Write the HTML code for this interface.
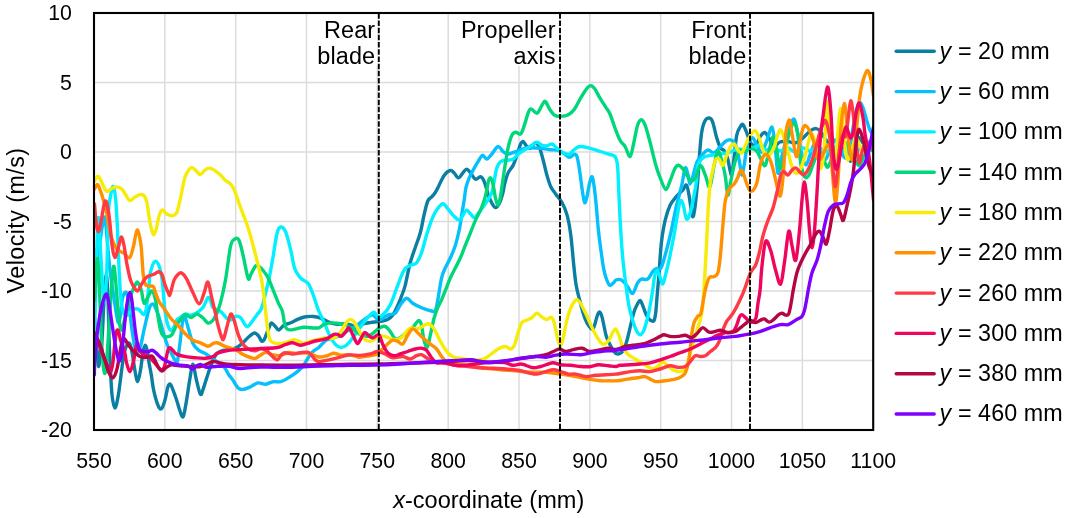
<!DOCTYPE html>
<html><head><meta charset="utf-8"><title>Velocity chart</title>
<style>
html,body{margin:0;padding:0;background:#fff;}
body{width:1066px;height:518px;overflow:hidden;}
svg{display:block;}
text{font-family:"Liberation Sans",Arial,sans-serif;fill:#000;}
.tk{font-size:21.3px;}
.lb{font-size:23.3px;}
.ser{fill:none;stroke-width:3.4;stroke-linecap:round;stroke-linejoin:round;}
</style></head><body>
<svg width="1066" height="518" viewBox="0 0 1066 518">
<rect width="1066" height="518" fill="#fff"/>
<path d="M164.84,13.0V430.0M235.67,13.0V430.0M306.51,13.0V430.0M377.35,13.0V430.0M448.18,13.0V430.0M519.02,13.0V430.0M589.85,13.0V430.0M660.69,13.0V430.0M731.53,13.0V430.0M802.36,13.0V430.0M94.0,82.50H873.2M94.0,152.00H873.2M94.0,221.50H873.2M94.0,291.00H873.2M94.0,360.50H873.2" stroke="#dcdcdc" stroke-width="1.5" fill="none"/>
<rect x="313" y="14" width="64.6" height="52" fill="#fff"/>
<rect x="458" y="14" width="100.8" height="52" fill="#fff"/>
<rect x="686" y="14" width="62.8" height="52" fill="#fff"/>
<clipPath id="cp"><rect x="94.0" y="13.0" width="779.2" height="417.0"/></clipPath>
<g clip-path="url(#cp)">
<path class="ser" stroke="#0b7fa3" d="M94.5,318.0C94.8,320.8 95.3,327.0 96.0,335.0C96.7,343.0 97.7,363.2 98.4,366.0C99.2,368.8 99.9,356.3 100.5,352.0C101.1,347.7 101.4,348.7 102.0,340.0C102.6,331.3 103.4,311.0 104.1,300.0C104.8,289.0 105.6,273.9 106.3,273.9C107.0,273.9 107.5,289.0 108.0,300.0C108.5,311.0 108.7,328.3 109.1,340.0C109.5,351.7 110.0,360.9 110.5,370.0C111.0,379.1 111.3,388.2 112.0,394.6C112.7,401.0 113.8,408.1 114.9,408.1C116.0,408.1 117.2,401.4 118.4,394.6C119.6,387.8 121.0,374.3 122.0,367.4C123.0,360.5 123.3,356.8 124.1,353.1C124.9,349.4 126.1,346.6 127.0,345.0C127.9,343.4 128.7,342.3 129.5,343.5C130.3,344.7 131.1,347.4 132.0,352.0C132.9,356.6 134.1,366.1 135.0,371.0C135.9,375.9 136.8,381.7 137.7,381.5C138.6,381.3 139.6,374.9 140.5,370.0C141.4,365.1 142.2,356.1 143.0,352.0C143.8,347.9 144.6,345.3 145.3,345.3C146.1,345.3 146.9,349.0 147.5,352.0C148.1,355.0 148.4,359.1 149.1,363.1C149.8,367.1 150.8,371.7 151.5,376.0C152.2,380.3 152.4,384.1 153.4,388.9C154.4,393.7 156.4,401.3 157.7,404.6C159.0,407.9 160.1,409.6 161.3,408.9C162.5,408.2 163.8,403.9 164.9,400.3C166.0,396.7 166.9,390.1 167.7,387.4C168.5,384.7 169.1,384.0 169.8,384.0C170.5,384.0 170.9,384.7 172.0,387.4C173.1,390.1 175.3,396.1 176.6,400.0C177.9,403.9 178.9,408.2 180.0,411.0C181.1,413.8 182.1,418.3 183.2,416.5C184.3,414.7 185.5,406.4 186.6,400.0C187.7,393.6 188.9,384.0 190.0,378.0C191.1,372.0 191.9,364.2 192.9,364.2C193.9,364.2 194.8,373.0 196.0,378.0C197.2,383.0 199.2,392.5 200.4,394.2C201.7,395.9 202.4,390.7 203.5,388.0C204.6,385.3 205.6,381.2 206.7,377.9C207.8,374.6 208.8,371.4 210.0,368.2C211.2,365.0 212.6,361.0 213.8,358.5C215.1,356.0 215.9,354.4 217.5,353.0C219.1,351.6 220.7,351.0 223.2,350.3C225.7,349.6 230.0,349.6 232.5,349.0C235.0,348.4 236.3,347.8 238.2,346.6C240.1,345.4 241.9,343.6 243.8,341.9C245.7,340.2 247.6,337.8 249.4,336.3C251.2,334.8 253.0,333.0 254.6,333.0C256.2,333.0 257.7,335.0 258.8,336.3C259.9,337.6 260.6,340.4 261.5,341.0C262.4,341.6 263.2,341.1 264.0,340.0C264.8,338.9 265.3,336.9 266.3,334.4C267.3,331.9 269.2,326.9 270.1,325.0C271.0,323.1 271.0,322.7 271.9,323.0C272.8,323.3 274.5,325.7 275.7,326.9C276.9,328.1 277.4,330.3 278.8,330.0C280.2,329.7 282.1,326.3 284.1,325.1C286.1,323.9 288.4,323.8 290.7,322.8C293.0,321.8 295.7,320.2 298.2,319.2C300.7,318.2 303.2,317.2 305.7,316.8C308.2,316.4 310.7,316.3 313.2,316.5C315.7,316.7 318.2,317.3 320.7,318.2C323.2,319.1 325.7,320.8 328.2,321.8C330.7,322.8 333.2,323.7 335.7,324.1C338.2,324.5 340.7,323.9 343.2,324.0C345.7,324.1 348.6,324.4 350.7,325.0C352.8,325.6 354.4,327.6 356.0,327.5C357.6,327.4 357.6,325.3 360.0,324.5C362.4,323.7 366.8,323.1 370.1,322.6C373.5,322.1 377.2,321.9 380.1,321.4C383.0,320.9 385.5,320.6 387.6,319.5C389.7,318.4 391.3,316.9 392.7,315.1C394.1,313.4 395.0,311.0 396.0,309.0C397.0,307.0 397.8,305.7 398.9,303.0C400.0,300.3 401.6,295.9 402.7,293.0C403.8,290.1 403.9,290.4 405.2,285.4C406.4,280.4 408.5,269.1 410.2,262.8C411.9,256.5 413.5,252.7 415.2,247.7C416.9,242.7 418.8,238.1 420.3,232.7C421.8,227.3 422.8,220.4 424.0,215.1C425.2,209.8 426.5,204.0 427.8,201.0C429.1,198.0 430.4,198.4 431.6,197.0C432.9,195.6 434.3,194.0 435.3,192.5C436.3,191.0 436.3,190.8 437.8,187.9C439.3,185.1 442.0,178.3 444.1,175.4C446.2,172.5 448.7,170.8 450.4,170.4C452.1,170.0 452.8,171.7 454.1,172.9C455.4,174.2 456.9,177.9 458.4,177.9C459.9,177.9 461.5,174.4 462.9,172.9C464.3,171.4 465.4,169.1 466.7,169.1C468.0,169.1 469.0,171.2 470.5,172.9C472.0,174.6 473.8,178.6 475.5,179.2C477.2,179.8 479.0,176.3 480.5,176.7C482.0,177.1 483.1,178.8 484.3,181.7C485.6,184.6 486.8,190.4 488.0,194.0C489.2,197.6 490.6,200.7 491.8,203.0C493.1,205.3 494.2,207.5 495.5,207.6C496.8,207.7 498.0,206.1 499.3,203.5C500.6,200.9 502.3,195.0 503.1,192.0C503.9,189.0 503.5,188.6 504.3,185.4C505.1,182.2 506.6,176.2 508.1,172.9C509.6,169.6 511.6,168.3 513.1,165.4C514.6,162.5 515.6,158.9 516.9,155.3C518.1,151.7 519.5,146.3 520.6,144.0C521.7,141.7 522.2,141.1 523.2,141.5C524.2,141.9 525.6,145.4 526.9,146.5C528.1,147.6 529.2,148.4 530.7,147.8C532.2,147.2 534.2,142.8 535.7,142.8C537.2,142.8 538.2,144.9 539.5,147.8C540.8,150.7 542.0,155.7 543.2,160.3C544.5,164.9 545.7,171.0 547.0,175.4C548.3,179.8 549.3,183.6 550.8,186.7C552.3,189.8 553.9,191.6 555.8,194.2C557.7,196.8 560.1,199.0 562.0,202.5C563.9,206.0 565.6,209.7 567.1,215.1C568.6,220.5 569.8,227.7 570.8,235.2C571.8,242.7 572.5,252.3 573.3,260.3C574.1,268.3 574.8,276.4 575.8,283.0C576.8,289.6 578.1,294.2 579.6,300.0C581.1,305.8 582.9,313.1 584.6,317.6C586.3,322.1 588.1,325.2 589.6,327.0C591.1,328.8 592.1,329.9 593.4,328.1C594.7,326.3 596.2,318.7 597.2,316.0C598.2,313.3 598.9,311.8 599.7,312.1C600.5,312.4 601.2,313.8 602.2,317.6C603.2,321.5 604.8,330.8 606.0,335.2C607.2,339.6 608.4,341.3 609.7,344.0C611.0,346.7 612.5,349.8 613.8,351.5C615.1,353.2 616.0,354.0 617.5,354.0C619.0,354.0 621.0,353.4 622.5,351.5C624.0,349.6 625.0,346.7 626.3,342.7C627.6,338.7 628.9,332.6 630.1,327.6C631.4,322.6 632.5,316.6 633.8,312.6C635.0,308.6 636.5,305.8 637.6,303.8C638.7,301.8 639.3,300.3 640.1,300.5C640.9,300.7 641.6,302.7 642.6,305.1C643.6,307.5 645.1,312.6 646.4,315.1C647.7,317.6 648.9,319.2 650.2,320.1C651.5,321.0 653.1,321.9 654.0,320.5C654.9,319.1 655.3,316.2 655.8,312.0C656.3,307.8 656.7,301.1 657.2,295.0C657.7,288.9 658.2,284.1 658.9,275.4C659.6,266.7 660.3,251.9 661.4,242.7C662.5,233.5 663.7,226.5 665.2,220.2C666.7,213.9 668.3,209.1 670.2,205.1C672.1,201.1 674.4,198.8 676.5,196.3C678.6,193.8 681.1,191.9 682.8,190.0C684.5,188.1 685.5,184.2 686.5,185.0C687.5,185.8 688.1,190.5 689.0,195.1C689.9,199.7 690.9,209.0 691.6,212.6C692.3,216.2 692.7,217.7 693.3,216.4C693.9,215.2 694.5,211.2 695.3,205.1C696.0,199.0 697.2,187.4 697.8,180.0C698.4,172.6 698.5,168.3 699.1,160.4C699.7,152.5 700.6,139.5 701.6,132.8C702.6,126.1 704.0,122.6 705.4,120.2C706.8,117.8 708.6,117.8 709.9,118.2C711.1,118.6 711.8,119.4 712.9,122.7C714.0,126.0 715.5,133.6 716.7,137.8C718.0,142.0 719.2,145.7 720.4,147.8C721.6,149.9 722.8,148.8 724.0,150.5C725.2,152.2 726.5,154.8 727.5,158.0C728.5,161.2 729.3,167.2 730.0,170.0C730.7,172.8 731.1,175.7 731.7,174.5C732.3,173.3 732.7,169.5 733.5,163.0C734.3,156.5 735.5,141.4 736.7,135.3C737.9,129.2 739.5,128.3 740.5,126.5C741.5,124.7 742.0,123.7 743.0,124.7C744.0,125.8 745.5,129.8 746.8,132.8C748.0,135.8 749.0,140.7 750.5,142.8C752.0,144.9 753.8,146.4 755.5,145.3C757.2,144.2 759.1,138.1 760.6,136.0C762.1,133.9 763.4,132.2 764.8,132.5C766.2,132.8 767.5,135.8 769.0,138.0C770.5,140.2 772.2,145.3 774.0,146.0C775.8,146.7 777.7,142.8 780.0,142.0C782.3,141.2 785.4,141.2 787.9,141.4C790.4,141.6 792.5,143.6 795.0,143.0C797.5,142.4 800.5,140.0 803.0,138.0C805.5,136.0 807.8,132.6 810.0,131.0C812.2,129.4 814.6,128.4 816.4,128.6C818.2,128.8 819.6,130.3 821.0,132.0C822.4,133.7 823.4,136.3 825.0,138.6C826.6,140.9 828.5,143.8 830.7,145.7C832.9,147.6 835.6,149.4 838.0,150.0C840.4,150.6 842.9,147.1 845.0,149.0C847.1,150.9 849.0,161.2 850.7,161.4C852.4,161.6 853.6,153.9 855.0,150.0C856.4,146.1 857.7,139.2 859.0,138.0C860.3,136.8 861.5,141.3 863.0,143.0C864.5,144.7 866.2,148.3 868.0,148.0C869.8,147.7 872.6,142.2 873.5,141.0"/>
<path class="ser" stroke="#05c0fb" d="M94.5,250.0C94.8,252.0 95.8,262.0 96.5,262.0C97.2,262.0 98.1,255.7 99.0,250.0C99.9,244.3 101.0,233.5 102.0,228.0C103.0,222.5 104.1,215.4 104.9,217.1C105.7,218.8 106.3,230.5 107.0,238.0C107.7,245.5 108.3,254.2 109.1,262.0C109.9,269.8 111.0,277.8 112.0,285.0C113.0,292.2 114.0,298.8 115.0,305.0C116.0,311.2 117.2,319.8 118.0,322.0C118.8,324.2 119.2,322.0 120.0,318.0C120.8,314.0 121.5,302.2 122.5,298.0C123.5,293.8 125.2,291.3 126.3,292.5C127.4,293.7 128.1,298.8 129.0,305.0C129.9,311.2 131.0,322.8 132.0,330.0C133.0,337.2 134.1,344.2 135.0,348.0C135.9,351.8 136.6,353.3 137.5,353.0C138.4,352.7 139.5,349.8 140.6,346.0C141.7,342.2 142.6,336.2 144.0,330.0C145.4,323.8 147.7,313.2 149.1,308.9C150.5,304.5 151.6,304.0 152.7,303.9C153.8,303.8 154.4,305.8 155.5,308.0C156.6,310.2 157.8,313.2 159.1,317.4C160.4,321.6 162.0,328.3 163.4,333.1C164.8,337.9 166.3,342.4 167.7,346.0C169.1,349.6 170.7,352.1 172.0,354.6C173.3,357.1 174.6,359.9 175.5,361.0C176.4,362.1 176.7,364.4 177.5,361.0C178.3,357.6 179.5,346.8 180.3,340.3C181.1,333.8 181.8,326.1 182.5,322.0C183.2,317.9 183.5,314.5 184.5,315.6C185.5,316.7 187.0,324.1 188.4,328.8C189.8,333.5 191.4,340.2 193.1,343.8C194.8,347.4 196.6,348.6 198.8,350.3C201.0,352.0 203.8,352.5 206.3,354.1C208.8,355.7 211.5,358.1 213.8,359.7C216.1,361.3 218.4,362.1 220.3,363.5C222.2,364.9 223.6,366.3 225.0,368.2C226.4,370.1 227.5,372.7 228.8,374.7C230.2,376.7 231.6,378.2 233.1,380.4C234.6,382.6 236.4,386.5 238.1,388.0C239.8,389.5 241.0,389.6 243.1,389.4C245.2,389.2 248.1,387.8 250.6,386.7C253.1,385.6 255.6,383.3 258.1,382.9C260.6,382.5 263.2,384.4 265.7,384.2C268.2,384.0 270.7,382.1 273.2,381.7C275.7,381.3 278.2,382.3 280.7,381.7C283.2,381.1 285.7,379.4 288.2,377.9C290.7,376.4 293.4,374.8 295.8,372.9C298.2,371.0 300.9,368.6 302.9,366.3C304.9,364.0 305.9,361.3 307.6,358.8C309.3,356.3 311.3,353.2 313.2,351.3C315.1,349.4 316.7,349.3 318.8,347.5C320.9,345.7 323.5,341.9 325.9,340.3C328.3,338.7 330.9,338.7 333.4,337.8C335.9,336.9 338.4,336.5 340.9,335.2C343.4,333.9 346.0,331.7 348.5,330.2C351.0,328.7 353.2,327.9 356.0,326.0C358.8,324.1 362.3,320.7 365.1,318.9C367.9,317.1 370.3,314.9 372.6,315.1C374.9,315.3 376.4,320.1 378.9,320.1C381.4,320.1 384.9,316.2 387.6,315.1C390.3,314.0 393.1,314.9 395.2,313.2C397.3,311.5 398.3,307.6 400.2,305.1C402.1,302.6 404.4,298.6 406.5,298.3C408.6,298.0 410.2,301.7 412.7,303.3C415.2,304.9 418.4,306.5 421.5,307.8C424.6,309.1 429.3,310.5 431.6,311.0C433.9,311.5 434.3,312.6 435.3,310.8C436.3,309.0 436.8,305.5 437.8,300.0C438.9,294.5 440.3,283.2 441.6,277.8C442.9,272.4 443.9,271.1 445.4,267.8C446.9,264.5 448.7,261.6 450.4,257.8C452.1,254.0 453.9,249.8 455.4,245.2C456.9,240.6 458.1,235.2 459.2,230.2C460.2,225.2 460.9,220.1 461.7,215.1C462.5,210.1 463.5,204.5 464.2,200.0C464.9,195.5 465.1,191.6 465.9,187.9C466.7,184.2 468.0,180.8 469.2,177.9C470.4,175.0 471.5,173.1 473.0,170.4C474.5,167.7 476.4,164.1 478.0,161.6C479.6,159.1 481.0,155.7 482.5,155.3C484.0,154.9 485.2,159.3 486.8,159.1C488.4,158.9 489.9,156.2 491.8,154.1C493.7,152.0 496.2,146.9 498.1,146.5C500.0,146.1 501.4,150.3 503.1,151.6C504.8,152.9 506.0,154.1 508.1,154.1C510.2,154.1 513.1,152.4 515.6,151.6C518.1,150.8 520.7,149.6 523.2,149.0C525.7,148.4 527.8,147.9 530.7,147.8C533.6,147.7 537.4,148.0 540.7,148.3C544.1,148.6 547.9,149.5 550.8,149.8C553.7,150.1 556.0,149.6 558.3,150.3C560.6,151.0 562.7,152.9 564.6,154.1C566.5,155.3 567.9,157.3 569.6,157.3C571.3,157.3 573.4,154.2 574.6,154.1C575.9,154.0 576.3,154.3 577.1,157.0C577.9,159.7 578.8,165.1 579.6,170.4C580.4,175.7 581.3,183.7 582.1,189.0C582.9,194.3 583.8,201.3 584.6,202.5C585.4,203.7 586.3,199.3 587.1,196.0C587.9,192.7 588.8,186.1 589.6,182.9C590.5,179.7 591.4,176.0 592.2,176.7C593.0,177.4 593.5,182.3 594.2,187.0C594.9,191.7 595.5,197.8 596.2,205.0C596.9,212.2 597.6,222.7 598.4,230.2C599.2,237.7 600.0,243.9 600.9,250.2C601.8,256.5 602.6,263.2 603.5,267.8C604.4,272.4 605.0,274.9 606.0,277.8C607.0,280.7 608.5,284.6 609.7,285.4C611.0,286.2 612.5,283.7 613.5,282.8C614.5,281.9 614.7,280.5 616.0,280.0C617.3,279.5 619.4,278.8 621.3,279.9C623.2,281.0 625.7,284.4 627.6,286.6C629.5,288.9 630.9,294.0 632.6,293.4C634.3,292.8 636.1,285.3 637.6,282.9C639.1,280.5 639.7,279.7 641.4,279.1C643.1,278.5 645.7,280.4 647.6,279.1C649.5,277.9 651.2,273.4 652.7,271.6C654.2,269.8 655.0,269.1 656.4,268.5C657.8,267.9 659.4,270.8 661.0,268.0C662.6,265.2 664.3,258.0 666.0,252.0C667.7,246.0 669.4,239.0 671.0,232.0C672.6,225.0 674.2,216.0 675.5,210.0C676.8,204.0 677.9,200.3 679.0,196.0C680.1,191.7 681.0,188.7 682.0,184.0C683.0,179.3 684.3,169.4 685.3,167.9C686.3,166.4 687.2,172.3 688.0,175.0C688.8,177.7 689.2,183.8 690.0,184.0C690.8,184.2 691.8,179.7 693.0,176.0C694.2,172.3 695.5,165.5 697.0,162.0C698.5,158.5 700.2,157.0 702.0,155.0C703.8,153.0 706.0,150.3 708.0,150.0C710.0,149.7 712.0,153.5 714.0,153.0C716.0,152.5 718.0,149.0 720.0,147.0C722.0,145.0 724.1,142.2 726.0,141.0C727.9,139.8 729.5,139.2 731.2,140.0C732.9,140.8 734.6,142.3 736.0,146.0C737.4,149.7 738.5,157.2 739.5,162.0C740.5,166.8 741.0,174.3 741.8,175.0C742.5,175.7 743.2,170.2 744.0,166.0C744.8,161.8 745.6,154.1 746.5,150.0C747.4,145.9 748.2,143.4 749.3,141.4C750.4,139.4 751.7,137.2 753.0,138.0C754.3,138.8 755.5,143.7 757.0,146.0C758.5,148.3 760.3,153.0 762.0,152.0C763.7,151.0 765.3,144.2 767.0,140.0C768.7,135.8 770.8,126.3 772.1,127.1C773.4,127.9 774.0,137.4 775.0,145.0C776.0,152.6 776.9,170.4 777.9,172.9C778.9,175.4 779.6,165.5 781.0,160.0C782.4,154.5 784.5,145.7 786.0,140.0C787.5,134.3 788.6,129.4 790.0,126.0C791.4,122.5 793.0,117.8 794.3,119.3C795.6,120.8 796.7,129.1 798.0,135.0C799.3,140.9 800.7,150.0 802.0,155.0C803.3,160.0 804.7,165.0 806.0,165.0C807.3,165.0 808.5,158.7 810.0,155.0C811.5,151.3 813.3,143.8 815.0,143.0C816.7,142.2 818.3,147.2 820.0,150.0C821.7,152.8 823.3,160.0 825.0,160.0C826.7,160.0 828.3,153.3 830.0,150.0C831.7,146.7 833.3,140.3 835.0,140.0C836.7,139.7 838.3,145.0 840.0,148.0C841.7,151.0 843.3,158.5 845.0,158.0C846.7,157.5 848.5,151.0 850.0,145.0C851.5,139.0 852.8,128.2 854.0,122.0C855.2,115.8 856.0,111.3 857.0,108.0C858.0,104.7 859.0,102.1 860.0,102.1C861.0,102.1 862.2,106.0 863.0,108.0C863.8,110.0 864.0,110.9 865.0,114.3C866.0,117.7 867.9,125.0 869.3,128.6C870.7,132.2 872.8,134.8 873.5,136.0"/>
<path class="ser" stroke="#00f0ff" d="M94.5,335.0C94.8,322.8 95.9,281.6 96.5,262.0C97.1,242.4 97.6,219.5 98.3,217.5C99.0,215.5 99.7,237.6 100.5,250.0C101.3,262.4 102.2,283.7 103.0,292.0C103.8,300.3 104.4,303.7 105.0,300.0C105.6,296.3 106.2,284.5 106.8,270.0C107.4,255.5 107.8,225.3 108.4,212.9C109.0,200.5 109.8,200.1 110.6,195.7C111.4,191.3 112.3,185.9 113.1,186.4C113.9,186.9 114.9,191.8 115.6,198.6C116.3,205.4 116.9,217.9 117.4,227.1C117.9,236.3 117.9,242.5 118.4,254.0C118.9,265.5 119.9,286.7 120.6,296.0C121.3,305.3 121.8,306.7 122.7,310.0C123.6,313.3 124.8,315.7 126.0,316.0C127.2,316.3 128.5,313.2 130.0,312.0C131.5,310.8 133.4,309.3 134.9,308.9C136.4,308.5 137.7,308.7 139.1,309.6C140.5,310.6 142.2,314.5 143.4,314.6C144.6,314.7 145.3,312.8 146.0,310.0C146.7,307.2 147.1,302.2 147.6,298.0C148.1,293.8 148.5,289.4 149.0,285.0C149.5,280.6 149.6,275.6 150.6,271.7C151.6,267.8 153.5,262.3 154.9,261.4C156.3,260.4 157.9,263.1 159.1,266.0C160.3,268.9 161.3,274.4 162.0,278.9C162.7,283.4 162.9,287.9 163.4,293.1C163.9,298.3 164.2,304.9 164.9,310.0C165.6,315.1 166.5,320.6 167.5,324.0C168.5,327.4 169.8,330.2 171.0,330.5C172.2,330.8 173.6,327.7 174.5,326.0C175.4,324.3 175.6,321.6 176.6,320.2C177.6,318.8 178.8,318.8 180.3,317.7C181.8,316.6 183.7,314.3 185.4,313.9C187.1,313.5 188.6,315.3 190.4,315.2C192.2,315.1 194.4,314.3 196.5,313.0C198.6,311.7 201.0,310.2 202.9,307.6C204.8,305.0 206.6,298.5 207.9,297.6C209.2,296.7 210.2,300.3 211.0,302.0C211.8,303.7 211.4,306.0 213.0,307.6C214.6,309.2 217.8,309.3 220.5,311.4C223.2,313.5 226.8,319.4 229.3,320.2C231.8,321.0 233.6,316.8 235.5,316.4C237.4,316.0 238.7,316.0 240.6,317.7C242.5,319.4 244.9,325.9 246.8,326.5C248.7,327.1 250.5,323.3 252.2,321.3C253.9,319.3 255.5,316.6 256.9,314.7C258.3,312.8 259.6,312.0 260.7,310.0C261.8,308.0 261.9,307.2 263.2,302.6C264.4,298.0 266.9,287.9 268.2,282.5C269.4,277.1 269.9,274.4 270.7,270.0C271.5,265.6 272.1,262.1 273.2,256.0C274.2,249.9 275.8,238.3 277.0,233.5C278.2,228.7 279.3,227.3 280.7,227.0C282.1,226.7 283.8,227.6 285.5,231.5C287.2,235.4 289.3,244.3 290.8,250.4C292.3,256.5 293.1,263.6 294.5,268.0C295.9,272.4 298.1,274.7 299.5,276.7C300.9,278.7 301.5,278.8 303.0,280.0C304.5,281.2 306.6,281.3 308.3,283.8C310.0,286.3 311.6,290.7 313.3,295.1C315.0,299.5 316.5,305.5 318.4,310.2C320.3,314.9 322.6,318.8 324.5,323.1C326.4,327.5 328.2,332.7 330.1,336.3C332.0,339.9 333.8,342.8 335.7,344.7C337.6,346.6 339.5,347.5 341.4,347.5C343.3,347.5 345.1,346.3 347.0,344.7C348.9,343.1 350.4,341.0 352.6,338.1C354.8,335.2 357.5,331.0 360.0,327.6C362.5,324.2 365.3,320.2 367.6,317.6C369.9,315.0 372.1,312.4 373.8,312.2C375.5,312.0 376.1,315.8 377.6,316.3C379.1,316.8 380.5,317.0 382.6,315.1C384.7,313.2 387.7,310.1 390.2,305.1C392.7,300.2 395.4,291.2 397.7,285.4C400.0,279.6 401.9,273.6 404.0,270.3C406.1,267.0 408.1,266.6 410.2,265.3C412.3,264.1 414.6,264.9 416.5,262.8C418.4,260.7 419.8,257.3 421.5,252.7C423.2,248.1 424.8,240.6 426.5,235.2C428.2,229.8 429.9,224.3 431.6,220.1C433.3,215.9 434.7,212.8 436.6,210.1C438.5,207.4 440.9,204.0 442.8,203.8C444.7,203.6 446.2,206.9 447.9,208.8C449.6,210.7 451.0,213.2 452.9,215.1C454.8,217.0 457.5,220.1 459.2,220.1C460.9,220.1 461.6,216.8 462.9,215.1C464.1,213.4 465.4,210.3 466.7,210.1C468.0,209.9 469.2,212.6 470.5,213.8C471.8,215.1 472.9,217.6 474.2,217.6C475.4,217.6 476.5,215.6 478.0,213.8C479.5,212.0 481.3,209.3 483.0,207.0C484.7,204.7 486.5,202.5 488.0,200.0C489.5,197.5 490.9,195.3 492.0,192.0C493.1,188.7 493.5,184.4 494.3,180.4C495.1,176.4 495.8,171.0 496.8,167.9C497.9,164.8 498.9,162.9 500.6,161.6C502.3,160.3 504.7,160.7 506.8,160.3C508.9,159.9 511.2,160.1 513.1,159.1C515.0,158.1 516.0,155.8 518.1,154.1C520.2,152.4 523.4,150.5 525.7,149.0C528.0,147.5 530.0,146.4 531.9,145.3C533.8,144.2 535.3,142.3 537.0,142.3C538.7,142.3 540.3,144.7 542.0,145.3C543.7,145.9 545.3,146.0 547.0,145.8C548.7,145.6 550.3,143.6 552.0,144.0C553.7,144.4 555.1,146.8 557.0,148.3C558.9,149.8 561.2,151.8 563.3,152.8C565.4,153.8 567.9,154.5 569.6,154.1C571.3,153.7 571.6,151.6 573.3,150.3C575.0,149.0 577.1,146.9 579.6,146.5C582.1,146.1 585.3,147.1 588.4,147.8C591.5,148.5 595.0,149.8 598.4,150.8C601.8,151.9 605.7,153.1 608.5,154.1C611.3,155.1 613.5,154.7 615.0,156.6C616.5,158.5 616.9,160.2 617.5,165.4C618.1,170.6 618.2,179.3 618.6,188.0C619.0,196.7 619.4,206.4 620.0,217.6C620.6,228.8 621.5,243.6 622.5,255.3C623.5,267.0 625.2,279.6 626.3,287.9C627.3,296.2 627.8,299.7 628.8,305.1C629.8,310.5 631.4,315.9 632.6,320.1C633.9,324.3 635.0,327.8 636.3,330.2C637.5,332.6 638.8,334.7 640.1,334.7C641.4,334.7 642.6,333.0 643.9,330.2C645.1,327.4 646.5,321.8 647.6,317.6C648.7,313.4 649.4,309.7 650.2,305.1C651.1,300.5 652.0,294.7 652.7,290.0C653.4,285.3 653.8,280.2 654.5,277.0C655.2,273.8 656.1,270.5 657.0,270.5C657.9,270.5 659.0,274.7 660.0,277.0C661.0,279.3 661.8,284.4 662.7,284.1C663.6,283.8 664.5,279.0 665.5,275.0C666.5,271.0 667.6,266.9 669.0,260.3C670.4,253.7 672.5,243.1 674.0,235.2C675.5,227.2 676.8,218.3 677.8,212.6C678.8,206.9 679.4,202.4 680.3,201.0C681.2,199.6 682.0,201.0 683.0,204.0C684.0,207.0 685.3,217.5 686.5,218.9C687.7,220.3 689.0,216.6 690.3,212.6C691.6,208.6 693.0,200.5 694.1,195.1C695.2,189.7 696.0,184.9 696.6,180.0C697.2,175.1 696.8,169.1 697.8,165.4C698.8,161.7 700.7,159.6 702.8,157.9C704.9,156.2 707.5,156.0 710.4,155.4C713.3,154.8 717.1,154.7 720.4,154.1C723.7,153.5 727.1,152.8 730.0,152.0C732.9,151.2 735.5,149.3 738.0,149.0C740.5,148.7 742.7,150.2 745.0,150.0C747.3,149.8 749.6,148.7 752.0,148.0C754.4,147.3 757.0,145.4 759.3,145.7C761.6,146.0 763.7,149.8 766.0,150.0C768.3,150.2 770.7,146.8 773.0,147.0C775.3,147.2 777.5,150.8 780.0,151.0C782.5,151.2 785.5,147.8 788.0,148.0C790.5,148.2 792.5,152.0 795.0,152.0C797.5,152.0 800.5,148.2 803.0,148.0C805.5,147.8 807.5,151.2 810.0,151.0C812.5,150.8 815.3,146.8 818.0,147.0C820.7,147.2 823.3,152.0 826.0,152.0C828.7,152.0 831.3,147.2 834.0,147.0C836.7,146.8 839.3,151.2 842.0,151.0C844.7,150.8 847.3,146.2 850.0,146.0C852.7,145.8 855.3,150.3 858.0,150.0C860.7,149.7 863.4,145.8 866.0,144.0C868.6,142.2 872.2,139.8 873.5,139.0"/>
<path class="ser" stroke="#00d67a" d="M94.5,300.0C94.8,295.8 95.5,281.9 96.0,275.0C96.5,268.1 97.1,256.4 97.7,258.9C98.3,261.4 98.9,276.5 99.5,290.0C100.1,303.5 100.8,327.0 101.5,340.0C102.2,353.0 102.8,362.7 103.5,368.0C104.2,373.3 104.8,375.0 105.5,372.0C106.2,369.0 106.8,360.3 107.5,350.0C108.2,339.7 109.2,322.5 110.0,310.0C110.8,297.5 111.8,282.2 112.5,275.0C113.2,267.8 113.5,265.0 114.1,266.7C114.7,268.4 115.3,276.9 116.0,285.0C116.7,293.1 117.7,307.5 118.5,315.0C119.3,322.5 120.1,328.8 121.0,330.0C121.9,331.2 122.8,326.2 124.0,322.0C125.2,317.8 126.7,310.0 128.0,305.0C129.3,300.0 130.8,295.4 132.0,292.0C133.2,288.6 134.6,286.1 135.5,284.5C136.4,282.9 136.7,281.4 137.7,282.4C138.7,283.4 140.2,286.9 141.3,290.3C142.4,293.8 142.9,302.2 144.1,303.1C145.3,304.1 147.1,298.0 148.4,296.0C149.7,294.0 150.8,290.3 152.0,291.0C153.2,291.7 154.7,296.4 155.6,300.3C156.5,304.2 156.9,309.6 157.7,314.6C158.5,319.6 159.6,326.7 160.6,330.3C161.6,333.9 162.2,334.9 163.4,336.0C164.6,337.1 166.3,336.9 167.7,336.7C169.1,336.5 170.5,336.5 172.0,334.6C173.5,332.7 174.8,328.2 176.6,325.2C178.4,322.2 181.3,318.1 182.8,316.4C184.3,314.6 184.2,314.5 185.6,314.7C187.0,314.9 189.4,317.6 191.3,317.5C193.2,317.4 195.0,314.1 196.9,314.1C198.8,314.1 200.6,316.0 202.5,317.5C204.4,319.0 206.4,322.6 208.1,323.1C209.8,323.6 211.4,321.9 212.8,320.3C214.2,318.8 215.3,316.8 216.6,313.8C217.9,310.9 219.0,308.2 220.5,302.6C222.0,297.0 223.8,289.4 225.5,280.0C227.2,270.6 229.0,253.3 230.5,246.5C232.0,239.7 232.9,240.5 234.3,239.4C235.7,238.3 237.3,237.1 238.8,239.8C240.3,242.5 241.6,249.0 243.1,255.4C244.6,261.8 246.8,275.2 248.1,278.3C249.4,281.4 249.8,276.1 251.0,274.0C252.2,271.9 254.3,267.1 255.6,265.9C256.9,264.6 257.7,265.7 259.0,266.5C260.3,267.3 261.7,268.6 263.2,270.5C264.7,272.4 266.5,274.7 268.2,278.0C269.9,281.3 271.5,286.0 273.2,290.1C274.9,294.2 276.7,299.1 278.2,302.6C279.7,306.1 281.3,307.9 282.3,311.0C283.3,314.1 283.5,318.5 284.1,321.3C284.7,324.1 285.1,326.4 286.0,327.8C286.9,329.2 288.1,329.7 289.8,329.9C291.5,330.1 294.0,329.2 296.3,328.8C298.6,328.4 301.3,327.5 303.8,327.3C306.3,327.1 308.8,327.7 311.3,327.8C313.8,327.9 316.6,328.4 318.8,327.8C321.0,327.2 322.3,324.9 324.5,324.1C326.7,323.3 329.5,323.0 332.0,322.9C334.5,322.8 337.3,323.1 339.5,323.5C341.7,323.9 343.2,324.3 345.1,325.0C347.0,325.7 348.8,326.7 350.7,327.8C352.6,328.9 354.5,330.2 356.4,331.5C358.3,332.8 360.1,334.7 362.0,335.5C363.9,336.3 365.9,336.6 367.6,336.3C369.3,336.1 370.8,334.8 372.0,334.0C373.2,333.2 373.8,332.5 375.1,331.4C376.5,330.3 378.4,328.4 380.1,327.6C381.8,326.8 383.4,325.8 385.1,326.4C386.8,327.0 388.5,329.3 390.2,331.4C391.9,333.5 393.5,337.8 395.2,338.9C396.9,339.9 398.3,338.7 400.2,337.7C402.1,336.7 404.4,334.4 406.5,332.7C408.6,331.0 411.0,329.3 412.7,327.6C414.4,325.9 415.4,323.8 416.5,322.6C417.6,321.4 418.2,320.2 419.0,320.6C419.8,321.0 420.7,321.8 421.5,325.1C422.3,328.4 423.0,336.5 424.0,340.2C425.0,343.9 426.2,348.0 427.3,347.2C428.4,346.4 429.2,340.1 430.3,335.2C431.4,330.3 432.9,322.6 434.1,318.0C435.4,313.4 436.6,310.6 437.8,307.6C439.0,304.6 440.2,302.9 441.5,300.0C442.8,297.1 443.9,294.1 445.4,290.4C446.9,286.7 448.7,281.6 450.4,277.8C452.1,274.0 453.7,271.1 455.4,267.8C457.1,264.5 458.7,261.6 460.4,257.8C462.1,254.0 463.7,249.4 465.4,245.2C467.1,241.0 468.8,236.9 470.5,232.7C472.2,228.5 473.8,223.9 475.5,220.1C477.2,216.3 479.0,213.4 480.5,210.1C482.0,206.8 483.2,203.3 484.3,200.0C485.4,196.7 486.1,193.2 486.8,190.0C487.5,186.8 487.9,183.0 488.5,181.0C489.1,179.0 489.8,177.4 490.5,177.9C491.2,178.4 492.2,180.7 493.0,184.0C493.8,187.3 494.6,194.5 495.5,198.0C496.4,201.5 497.2,205.4 498.1,205.0C499.0,204.6 499.6,201.3 500.6,195.5C501.6,189.7 503.1,178.3 504.3,170.4C505.6,162.5 506.8,153.7 508.1,147.8C509.4,141.9 510.6,137.8 511.9,135.2C513.1,132.6 514.1,132.4 515.6,132.2C517.1,132.0 519.1,135.2 520.6,134.0C522.1,132.8 523.1,128.8 524.4,125.2C525.7,121.7 527.1,115.4 528.2,112.7C529.3,110.0 529.7,108.8 531.2,108.9C532.7,109.0 535.2,113.8 537.0,113.2C538.8,112.6 540.6,107.1 542.0,105.1C543.4,103.1 544.0,100.8 545.2,101.4C546.5,102.0 548.0,106.6 549.5,108.9C551.0,111.2 552.6,114.0 554.5,115.2C556.4,116.5 558.5,116.5 560.8,116.4C563.1,116.3 566.0,116.0 568.3,114.7C570.6,113.5 572.5,111.8 574.6,108.9C576.7,106.1 578.8,101.1 580.9,97.6C583.0,94.1 585.4,90.1 587.1,88.1C588.8,86.1 589.6,85.5 590.9,85.6C592.2,85.7 593.2,86.8 594.7,88.8C596.2,90.8 597.8,94.5 599.7,97.6C601.6,100.7 604.3,104.9 606.0,107.6C607.7,110.3 608.5,110.6 610.0,114.0C611.5,117.4 613.3,123.6 615.0,128.0C616.7,132.4 618.3,137.2 620.0,140.3C621.7,143.4 623.4,143.9 625.1,146.6C626.8,149.3 628.7,157.2 630.1,156.6C631.5,156.0 632.5,148.0 633.8,142.8C635.0,137.6 636.3,129.1 637.6,125.2C638.9,121.3 640.1,119.7 641.4,119.7C642.6,119.7 643.6,121.3 645.1,125.2C646.6,129.1 648.5,136.5 650.2,142.8C651.9,149.1 653.5,157.1 655.2,162.9C656.9,168.8 658.4,173.5 660.2,177.9C662.0,182.3 664.1,189.1 665.8,189.5C667.5,189.9 668.6,184.1 670.2,180.5C671.8,176.9 673.7,170.4 675.2,167.9C676.7,165.4 677.5,165.0 679.0,165.4C680.5,165.8 682.1,167.9 684.0,170.4C685.9,172.9 688.4,179.2 690.3,180.5C692.2,181.8 693.6,180.4 695.3,177.9C697.0,175.4 698.6,165.8 700.3,165.4C702.0,165.0 703.8,171.8 705.4,175.4C707.0,179.0 708.3,188.7 709.8,187.0C711.2,185.3 712.8,171.3 714.1,165.4C715.5,159.5 716.6,152.4 717.9,151.6C719.2,150.8 720.5,156.2 721.7,160.4C723.0,164.6 724.4,171.2 725.4,177.0C726.4,182.8 727.0,194.6 727.9,195.1C728.8,195.6 729.8,185.5 731.0,180.0C732.2,174.5 733.5,166.8 735.0,162.0C736.5,157.2 738.3,152.8 740.0,151.0C741.7,149.2 743.2,151.8 745.0,151.4C746.8,151.0 748.8,148.7 750.7,148.6C752.6,148.5 754.7,149.0 756.4,150.7C758.1,152.4 759.3,156.1 760.7,158.6C762.1,161.1 763.7,166.6 765.0,165.7C766.3,164.8 767.3,157.7 768.6,152.9C769.9,148.1 771.6,137.8 772.9,137.1C774.2,136.4 775.2,143.3 776.4,148.6C777.6,153.8 778.7,167.0 780.0,168.6C781.3,170.2 782.7,163.1 784.0,158.0C785.3,152.9 786.4,143.8 788.0,138.0C789.6,132.2 792.0,123.5 793.6,122.9C795.2,122.3 796.7,127.6 797.9,134.3C799.1,141.0 799.5,155.8 800.7,162.9C801.9,170.0 803.6,175.2 805.0,177.1C806.4,179.0 807.9,176.7 809.3,174.3C810.7,171.9 812.1,166.6 813.6,162.9C815.1,159.2 816.6,153.2 818.0,152.0C819.4,150.8 820.8,154.2 822.0,156.0C823.2,157.8 824.0,161.1 825.0,162.9C826.0,164.8 826.7,167.9 827.9,167.1C829.1,166.3 830.5,161.2 832.0,158.0C833.5,154.8 835.3,151.0 837.0,148.0C838.7,145.0 840.2,140.3 842.0,140.0C843.8,139.7 846.0,143.0 848.0,146.0C850.0,149.0 852.1,154.7 854.0,158.0C855.9,161.3 857.6,166.0 859.3,165.7C861.0,165.4 862.4,158.6 864.0,156.0C865.6,153.4 867.4,150.8 869.0,150.0C870.6,149.2 872.8,150.8 873.5,151.0"/>
<path class="ser" stroke="#f7ec08" d="M94.5,181.0C94.8,180.5 95.6,178.8 96.3,178.0C97.0,177.2 97.5,175.6 98.4,176.4C99.4,177.2 100.9,180.8 102.0,182.9C103.1,185.1 104.0,187.9 104.9,189.3C105.9,190.7 106.5,191.6 107.7,191.4C108.9,191.2 110.3,189.0 112.0,188.3C113.7,187.6 116.0,186.9 117.7,187.1C119.4,187.3 120.6,187.9 122.0,189.3C123.4,190.7 125.0,193.8 126.3,195.7C127.6,197.6 128.5,200.5 129.9,200.7C131.3,200.9 133.2,198.1 134.9,197.1C136.6,196.1 138.4,194.8 139.9,194.6C141.4,194.4 142.9,194.3 144.1,195.7C145.3,197.1 146.2,199.3 147.0,202.9C147.8,206.5 148.4,212.8 149.1,217.1C149.8,221.4 150.5,225.6 151.3,228.6C152.1,231.6 152.9,235.0 153.7,235.0C154.5,235.0 155.4,231.8 156.3,228.6C157.2,225.4 158.1,218.8 159.1,215.7C160.1,212.6 161.1,210.3 162.3,210.0C163.5,209.7 164.8,212.7 166.3,213.6C167.9,214.5 169.9,215.8 171.6,215.7C173.3,215.5 175.1,215.5 176.6,212.7C178.1,209.9 178.9,204.8 180.3,198.9C181.7,193.1 183.4,182.5 184.9,177.6C186.4,172.7 187.8,171.3 189.1,169.6C190.3,167.9 191.2,167.3 192.4,167.6C193.7,167.9 195.3,170.1 196.6,171.3C197.9,172.5 199.0,174.8 200.4,174.6C201.8,174.4 203.4,171.2 204.9,170.1C206.4,169.0 207.9,168.1 209.4,168.1C210.9,168.1 212.3,168.9 214.2,170.1C216.0,171.3 218.6,173.3 220.5,175.1C222.4,176.8 223.8,179.1 225.5,180.6C227.2,182.1 229.0,182.3 230.5,183.9C232.0,185.5 232.6,186.2 234.3,190.2C236.0,194.2 238.3,201.4 240.6,207.7C242.9,214.0 245.8,220.7 248.1,227.8C250.4,234.9 252.3,242.5 254.4,250.4C256.5,258.4 259.1,268.9 260.6,275.5C262.1,282.1 262.4,284.4 263.2,290.1C264.0,295.9 264.8,304.8 265.4,310.0C266.0,315.2 266.2,317.6 266.7,321.3C267.2,325.1 267.6,329.4 268.2,332.5C268.8,335.6 269.2,338.3 270.1,340.0C271.0,341.7 271.9,342.2 273.8,342.8C275.7,343.4 278.8,343.6 281.3,343.4C283.8,343.2 286.6,342.1 288.8,341.5C291.0,340.9 292.5,339.5 294.4,339.6C296.3,339.7 298.5,341.3 300.1,341.9C301.7,342.5 301.9,343.5 303.8,343.4C305.7,343.2 308.8,341.7 311.3,341.0C313.8,340.3 316.3,339.6 318.8,339.1C321.3,338.6 323.8,338.0 326.3,337.8C328.8,337.6 331.7,338.8 333.9,338.1C336.1,337.4 337.9,335.2 339.5,333.5C341.1,331.8 341.9,329.8 343.2,327.8C344.4,325.8 345.8,323.0 347.0,321.6C348.2,320.2 349.4,319.3 350.7,319.4C351.9,319.5 353.1,320.4 354.5,322.2C355.9,324.0 357.2,327.4 358.8,330.2C360.4,333.0 361.9,337.0 363.8,338.9C365.7,340.8 368.2,341.4 370.1,341.4C372.0,341.4 373.6,339.8 375.1,338.9C376.6,338.0 377.2,336.2 378.9,335.8C380.6,335.4 383.0,335.9 385.1,336.4C387.2,336.9 389.3,338.3 391.4,338.9C393.5,339.4 395.8,340.1 397.7,339.7C399.6,339.3 401.0,338.0 402.7,336.4C404.4,334.8 406.2,331.7 407.7,330.2C409.2,328.7 410.2,327.8 411.5,327.6C412.8,327.4 413.7,328.9 415.2,328.9C416.7,328.9 418.6,328.3 420.3,327.6C422.0,326.9 423.9,325.2 425.3,324.6C426.8,324.0 427.5,323.2 429.0,323.9C430.5,324.6 432.4,326.4 434.1,328.9C435.8,331.4 437.4,335.8 439.1,338.9C440.8,342.0 442.4,345.2 444.1,347.7C445.8,350.2 447.4,352.4 449.1,354.0C450.8,355.6 452.2,356.6 454.1,357.3C456.0,358.0 457.7,357.9 460.4,358.3C463.1,358.7 467.1,359.6 470.5,359.8C473.9,360.1 477.8,360.2 480.5,359.8C483.2,359.4 484.7,358.5 486.8,357.3C488.9,356.1 490.9,354.2 493.0,352.7C495.1,351.2 497.2,349.2 499.3,348.2C501.4,347.2 503.7,346.4 505.6,346.5C507.5,346.6 509.1,349.2 510.6,349.0C512.1,348.8 513.1,347.9 514.4,345.2C515.6,342.5 516.9,336.5 518.1,332.7C519.4,328.9 520.4,324.7 521.9,322.6C523.4,320.5 525.2,320.9 526.9,320.1C528.6,319.3 530.2,318.8 531.9,317.6C533.6,316.4 535.3,313.2 537.0,313.1C538.7,313.0 540.3,316.0 542.0,317.1C543.7,318.2 545.5,319.6 547.0,319.6C548.5,319.6 549.7,316.8 550.8,317.1C551.9,317.4 552.9,318.8 553.8,321.4C554.7,324.0 555.5,329.1 556.3,332.7C557.1,336.2 558.0,340.6 558.8,342.7C559.5,344.8 560.0,346.0 560.8,345.2C561.5,344.4 562.4,341.5 563.3,337.7C564.2,333.9 565.1,327.4 566.3,322.6C567.5,317.8 568.9,312.4 570.3,308.8C571.7,305.2 573.5,302.9 574.6,301.3C575.7,299.8 576.1,299.1 577.1,299.5C578.1,299.9 579.4,301.4 580.9,303.8C582.4,306.2 584.2,310.2 585.9,313.8C587.6,317.4 589.2,321.5 590.9,325.1C592.6,328.7 594.2,332.3 595.9,335.2C597.6,338.1 599.4,341.2 600.9,342.7C602.4,344.2 603.2,344.6 604.7,344.0C606.2,343.4 608.4,340.8 609.7,338.9C611.0,337.0 611.5,334.4 612.5,332.7C613.5,331.0 614.5,328.5 615.5,328.9C616.5,329.3 617.6,332.3 618.8,335.2C620.0,338.1 621.0,343.4 622.5,346.5C624.0,349.6 625.5,351.9 627.6,354.0C629.7,356.1 632.8,357.5 635.1,359.0C637.4,360.5 639.3,361.6 641.4,362.8C643.5,364.1 645.7,365.5 647.6,366.5C649.5,367.5 651.0,369.0 652.7,369.0C654.4,369.0 656.0,367.6 657.7,366.5C659.4,365.4 661.0,362.5 662.7,362.3C664.4,362.1 666.0,364.1 667.7,365.3C669.4,366.6 670.8,368.8 672.7,369.8C674.6,370.9 677.1,371.6 679.0,371.6C680.9,371.6 682.5,371.3 684.0,369.8C685.5,368.3 686.8,365.7 687.8,362.8C688.8,359.9 689.2,356.5 690.3,352.7C691.3,348.9 692.9,344.4 694.1,340.2C695.4,336.0 696.7,331.4 697.8,327.6C698.9,323.8 700.0,321.4 700.8,317.6C701.6,313.9 702.2,311.3 702.8,305.1C703.4,298.9 703.9,290.8 704.5,280.4C705.1,270.0 706.0,255.2 706.6,242.7C707.2,230.1 707.8,214.7 708.4,205.1C709.0,195.5 709.5,189.9 710.0,185.0C710.5,180.1 710.7,179.5 711.6,175.4C712.5,171.3 714.1,163.1 715.4,160.4C716.7,157.7 718.0,158.3 719.2,159.1C720.5,159.9 721.6,166.0 722.9,165.4C724.1,164.8 725.4,158.5 726.7,155.4C728.0,152.3 729.2,148.5 730.5,146.6C731.8,144.7 733.0,143.4 734.2,144.0C735.5,144.6 736.8,148.8 738.0,150.3C739.2,151.8 740.5,153.7 741.7,152.9C743.0,152.1 744.2,147.9 745.5,145.3C746.8,142.7 747.7,139.5 749.3,137.1C750.9,134.7 753.3,130.4 755.0,130.7C756.7,130.9 757.9,135.1 759.3,138.6C760.7,142.1 762.2,148.6 763.6,151.4C765.0,154.2 766.2,156.2 767.9,155.7C769.6,155.2 771.9,152.2 773.6,148.6C775.3,145.0 776.7,137.4 777.9,134.3C779.1,131.2 779.6,129.3 780.7,130.0C781.8,130.7 783.1,135.0 784.3,138.6C785.5,142.2 786.6,146.7 787.9,151.4C789.2,156.2 790.7,163.4 792.1,167.1C793.5,170.8 795.0,173.3 796.4,173.6C797.8,173.8 799.3,171.6 800.7,168.6C802.1,165.6 803.7,160.2 805.0,155.7C806.3,151.2 807.5,145.2 808.6,141.4C809.7,137.6 810.3,132.9 811.4,132.9C812.5,132.9 813.9,137.6 815.0,141.4C816.1,145.2 816.9,151.2 817.9,155.7C818.9,160.2 819.8,168.6 820.7,168.6C821.7,168.6 822.8,163.0 823.6,155.7C824.4,148.4 825.1,134.1 825.7,125.0C826.3,116.0 826.5,100.9 827.1,101.4C827.7,101.9 828.6,119.6 829.3,128.0C830.0,136.4 830.7,146.2 831.5,152.0C832.3,157.8 833.2,163.3 834.0,163.0C834.8,162.7 835.8,156.5 836.5,150.0C837.2,143.5 837.8,130.9 838.5,124.0C839.2,117.1 840.0,108.3 840.7,108.6C841.5,108.9 842.2,119.1 843.0,126.0C843.8,132.9 844.7,144.3 845.5,150.0C846.3,155.7 846.9,160.0 848.0,160.0C849.1,160.0 850.7,153.7 852.0,150.0C853.3,146.3 854.7,138.7 856.0,138.0C857.3,137.3 858.7,143.7 860.0,146.0C861.3,148.3 862.7,152.0 864.0,152.0C865.3,152.0 866.4,148.0 868.0,146.0C869.6,144.0 872.6,141.0 873.5,140.0"/>
<path class="ser" stroke="#ff9000" d="M94.5,189.0C95.0,188.2 96.5,184.1 97.5,184.5C98.5,184.9 99.6,188.8 100.6,191.4C101.6,194.0 102.5,196.7 103.4,200.0C104.4,203.3 105.3,206.9 106.3,211.4C107.2,215.9 108.1,222.5 109.1,227.1C110.0,231.7 110.7,235.3 112.0,239.0C113.3,242.7 115.0,246.8 117.0,249.2C119.0,251.6 121.7,251.8 123.8,253.2C125.9,254.6 127.9,258.8 129.5,257.8C131.1,256.8 132.0,251.6 133.3,247.0C134.6,242.4 135.9,230.7 137.1,230.0C138.3,229.3 139.9,238.4 140.7,243.0C141.5,247.6 141.6,251.9 142.0,257.4C142.4,262.9 142.8,271.5 143.4,276.0C144.0,280.5 144.7,282.9 145.6,284.6C146.5,286.3 147.8,285.6 149.1,286.0C150.4,286.4 152.3,285.5 153.4,286.7C154.5,287.9 154.7,290.6 155.6,293.1C156.5,295.6 157.8,299.3 159.1,301.7C160.4,304.1 161.5,304.7 163.4,307.4C165.3,310.1 167.9,314.7 170.3,317.7C172.7,320.7 175.3,322.5 177.8,325.2C180.3,327.9 182.9,331.5 185.4,334.0C187.9,336.5 190.4,338.8 192.9,340.3C195.4,341.8 197.9,341.8 200.4,342.8C202.9,343.8 205.7,346.1 207.9,346.2C210.1,346.3 211.8,343.8 213.5,343.3C215.2,342.8 216.0,342.5 218.0,343.0C220.0,343.5 222.6,345.4 225.5,346.5C228.4,347.6 232.6,348.2 235.5,349.5C238.4,350.8 240.6,353.2 243.1,354.5C245.6,355.8 248.6,356.9 250.6,357.5C252.6,358.1 253.3,358.8 255.0,358.4C256.7,358.0 258.8,356.0 260.7,355.0C262.6,354.0 264.2,352.4 266.3,352.4C268.4,352.4 270.8,354.5 273.2,355.0C275.6,355.5 278.1,355.9 280.7,355.5C283.2,355.1 286.0,352.8 288.5,352.5C291.0,352.2 293.2,353.4 295.8,353.5C298.4,353.6 301.2,352.7 303.8,352.8C306.4,352.9 308.8,353.4 311.3,354.1C313.8,354.8 316.3,356.7 318.8,357.0C321.3,357.3 323.8,356.6 326.3,356.0C328.8,355.4 331.2,353.3 333.6,353.2C336.0,353.1 338.4,355.0 340.9,355.2C343.4,355.4 346.0,354.4 348.5,354.6C351.0,354.8 354.1,355.9 356.0,356.4C357.9,356.8 357.6,357.4 360.0,357.3C362.4,357.2 367.2,356.2 370.1,355.7C373.0,355.1 375.5,355.1 377.6,354.0C379.7,352.9 380.9,350.7 382.6,349.0C384.3,347.3 385.9,345.5 387.6,344.0C389.3,342.5 391.0,340.6 392.7,340.2C394.4,339.8 396.0,340.8 397.7,341.4C399.4,342.0 401.0,345.0 402.7,344.0C404.4,343.0 406.0,337.7 407.7,335.2C409.4,332.7 411.0,329.3 412.7,328.9C414.4,328.5 416.0,331.2 417.7,332.7C419.4,334.2 420.7,335.8 422.8,337.7C424.9,339.6 428.0,342.1 430.3,344.0C432.6,345.9 434.7,346.9 436.6,349.0C438.5,351.1 439.9,354.4 441.6,356.5C443.3,358.6 444.3,360.2 446.6,361.5C448.9,362.8 452.3,363.4 455.4,364.0C458.5,364.6 462.0,364.8 465.4,365.3C468.8,365.9 472.1,366.8 475.5,367.3C478.9,367.8 481.3,367.9 485.5,368.3C489.7,368.7 495.6,369.4 500.6,369.8C505.6,370.2 510.6,370.4 515.6,370.8C520.6,371.2 525.7,372.1 530.7,372.3C535.7,372.6 540.7,372.0 545.7,372.3C550.7,372.6 555.8,373.4 560.8,374.1C565.8,374.8 571.2,375.8 575.8,376.6C580.4,377.4 584.2,378.4 588.4,379.1C592.6,379.8 597.5,380.5 600.9,380.8C604.2,381.1 605.7,380.8 608.5,380.8C611.3,380.8 614.3,381.1 617.5,380.8C620.7,380.5 624.2,379.6 627.6,379.1C631.0,378.6 634.7,378.2 637.6,377.8C640.5,377.4 642.8,376.3 645.1,376.6C647.4,376.9 649.5,379.0 651.4,379.8C653.3,380.6 654.1,381.4 656.4,381.6C658.7,381.8 662.1,381.2 665.2,380.8C668.3,380.4 672.5,379.8 675.2,379.1C677.9,378.4 679.8,377.7 681.5,376.6C683.2,375.6 684.2,374.7 685.3,372.8C686.3,370.9 687.0,368.7 687.8,365.3C688.5,361.9 689.2,357.7 689.8,352.7C690.4,347.7 690.9,340.2 691.6,335.2C692.3,330.2 693.1,325.8 694.1,322.6C695.1,319.5 696.7,317.8 697.8,316.3C698.9,314.8 699.9,316.5 700.8,313.8C701.7,311.1 702.6,304.1 703.4,300.0C704.2,295.9 704.5,292.7 705.5,289.0C706.5,285.3 707.7,280.0 709.1,277.9C710.5,275.8 712.6,277.5 714.1,276.6C715.6,275.8 716.9,276.4 717.9,272.8C718.9,269.2 719.6,263.2 720.4,255.3C721.2,247.4 722.1,234.4 722.9,225.2C723.7,216.0 724.3,206.2 725.4,200.1C726.5,194.0 727.7,191.5 729.2,188.8C730.7,186.1 732.7,186.0 734.2,184.0C735.7,182.0 737.0,179.3 738.0,177.0C739.0,174.7 739.6,170.9 740.5,170.4C741.4,169.9 742.5,171.9 743.5,174.0C744.5,176.1 745.3,180.1 746.5,183.0C747.7,185.9 749.1,191.2 750.7,191.4C752.4,191.6 754.7,189.1 756.4,184.3C758.1,179.6 759.2,167.9 760.7,162.9C762.2,157.9 764.0,154.6 765.7,154.3C767.4,154.1 769.2,157.6 770.7,161.4C772.2,165.2 773.8,172.3 775.0,177.1C776.2,181.9 777.0,187.0 777.9,190.0C778.8,193.0 779.6,198.4 780.6,195.1C781.6,191.8 782.8,180.1 783.6,170.0C784.5,159.9 784.8,142.6 785.7,134.3C786.7,126.0 788.2,120.0 789.3,120.0C790.4,120.0 791.1,129.1 792.1,134.3C793.1,139.5 794.2,147.7 795.0,151.4C795.8,155.1 796.3,158.1 797.1,156.4C797.9,154.7 799.0,146.0 800.0,141.4C801.0,136.8 801.9,131.2 802.9,128.6C803.9,126.0 804.5,125.2 805.7,125.7C806.9,126.2 808.7,128.8 810.0,131.4C811.3,134.0 812.5,137.4 813.6,141.4C814.7,145.4 815.3,152.6 816.4,155.7C817.5,158.8 818.7,160.6 820.0,160.0C821.3,159.4 822.7,154.5 824.0,152.0C825.3,149.5 826.9,145.3 828.0,145.0C829.1,144.7 829.8,145.7 830.5,150.0C831.2,154.3 831.7,164.0 832.3,171.0C832.9,178.0 833.5,186.7 834.0,192.0C834.5,197.3 835.0,203.0 835.5,203.0C836.0,203.0 836.5,197.3 837.0,192.0C837.5,186.7 838.0,181.3 838.6,171.0C839.2,160.7 839.8,141.2 840.7,130.0C841.7,118.8 843.2,104.4 844.3,103.6C845.3,102.8 846.1,117.6 847.0,125.0C847.9,132.4 848.6,142.2 849.5,148.0C850.4,153.8 851.5,161.3 852.5,160.0C853.5,158.7 854.4,150.0 855.5,140.0C856.6,130.0 858.2,109.3 859.3,100.0C860.4,90.7 860.8,89.2 862.1,84.3C863.4,79.4 865.7,71.7 867.1,70.7C868.5,69.8 869.6,74.4 870.7,78.6C871.8,82.8 873.0,93.1 873.5,96.0"/>
<path class="ser" stroke="#ff3a44" d="M94.5,204.0C94.8,207.4 95.6,219.7 96.3,224.3C97.0,228.9 97.8,232.2 98.6,231.5C99.4,230.8 100.4,224.5 101.3,220.0C102.2,215.5 103.3,207.5 104.1,204.3C104.9,201.1 105.3,200.5 105.9,201.0C106.5,201.5 107.0,203.4 107.7,207.1C108.4,210.8 109.2,216.6 109.9,222.9C110.6,229.2 111.2,239.2 112.0,245.0C112.8,250.8 113.8,257.0 114.9,257.4C116.0,257.8 117.3,250.8 118.4,247.4C119.5,244.0 120.3,237.2 121.3,237.0C122.2,236.8 123.1,241.4 124.1,246.0C125.0,250.6 125.9,258.9 127.0,264.6C128.1,270.3 129.4,276.5 130.6,280.3C131.8,284.1 132.9,285.6 134.1,287.4C135.3,289.2 136.5,291.5 137.7,291.0C138.9,290.5 140.0,286.8 141.3,284.6C142.6,282.5 144.1,279.7 145.6,278.1C147.1,276.6 149.0,276.0 150.6,275.3C152.2,274.6 153.6,274.5 154.9,273.9C156.2,273.3 157.2,271.6 158.4,271.7C159.6,271.8 160.9,272.5 162.0,274.6C163.1,276.8 163.8,281.5 164.9,284.6C166.0,287.7 167.6,291.5 168.4,293.1C169.2,294.8 169.1,296.7 170.0,294.5C170.9,292.3 172.8,283.3 174.1,280.0C175.4,276.7 176.8,275.7 178.0,274.5C179.2,273.3 180.2,272.3 181.6,273.0C183.0,273.7 184.7,275.5 186.6,278.8C188.5,282.1 190.8,288.4 192.9,292.6C195.0,296.8 197.3,303.9 199.2,303.9C201.1,303.9 202.8,296.2 204.2,292.6C205.6,289.0 206.7,281.2 207.9,282.0C209.2,282.8 210.6,292.9 211.7,297.6C212.8,302.3 213.7,305.8 214.7,310.0C215.7,314.2 216.4,318.7 217.5,323.1C218.6,327.5 220.3,333.6 221.3,336.3C222.3,339.0 222.6,340.7 223.5,339.1C224.4,337.5 225.9,330.6 226.9,326.9C227.9,323.1 228.9,318.7 229.7,316.6C230.5,314.5 230.8,313.3 231.6,314.1C232.4,314.9 233.3,317.9 234.4,321.3C235.5,324.7 236.9,330.8 238.2,334.4C239.4,338.0 240.3,340.4 241.9,342.8C243.5,345.2 245.3,347.1 247.5,348.5C249.7,349.9 252.8,350.9 255.0,350.9C257.2,350.9 258.8,348.6 260.7,348.5C262.6,348.4 264.7,349.4 266.3,350.3C267.9,351.2 268.9,352.9 270.1,354.1C271.4,355.4 272.6,356.9 273.8,357.8C275.1,358.7 276.4,360.2 277.6,359.7C278.9,359.2 280.1,356.1 281.3,355.0C282.6,353.9 283.2,352.9 285.1,352.8C287.0,352.7 290.1,354.1 292.6,354.1C295.1,354.1 297.6,353.1 300.1,352.8C302.6,352.5 305.7,351.8 307.6,352.2C309.5,352.6 310.1,353.8 311.3,355.0C312.6,356.2 313.9,358.6 315.1,359.7C316.4,360.8 316.9,361.5 318.8,361.6C320.7,361.7 323.2,360.9 326.3,360.3C329.4,359.7 333.8,358.7 337.6,357.8C341.4,356.9 345.1,355.4 348.9,355.0C352.6,354.6 356.6,355.6 360.1,355.4C363.6,355.2 367.2,354.6 370.1,354.0C373.0,353.4 375.1,351.5 377.6,351.5C380.1,351.5 382.6,352.9 385.1,354.0C387.6,355.1 389.8,357.4 392.7,357.8C395.6,358.2 399.8,356.3 402.7,356.5C405.6,356.7 407.9,359.1 410.2,359.0C412.5,358.9 414.6,356.4 416.5,355.7C418.4,355.0 419.8,354.3 421.5,354.7C423.2,355.1 424.6,356.7 426.5,357.8C428.4,358.9 430.1,360.7 432.8,361.5C435.5,362.3 439.0,362.2 442.8,362.8C446.6,363.4 451.2,364.7 455.4,365.3C459.6,365.9 463.8,366.1 468.0,366.5C472.2,366.9 476.3,367.5 480.5,367.8C484.7,368.1 488.8,368.1 493.0,368.3C497.2,368.5 501.4,368.7 505.6,369.0C509.8,369.3 514.3,369.7 518.1,370.3C521.9,370.9 525.1,372.2 528.2,372.8C531.4,373.4 534.1,374.3 537.0,374.1C539.9,373.9 543.0,372.3 545.7,371.6C548.4,370.9 550.8,369.8 553.3,369.8C555.8,369.8 558.3,370.9 560.8,371.6C563.3,372.3 565.8,373.7 568.3,374.1C570.8,374.5 572.9,373.7 575.8,374.1C578.7,374.5 582.5,376.4 585.9,376.6C589.2,376.8 592.5,375.6 595.9,375.3C599.2,375.0 602.6,375.0 606.0,374.8C609.4,374.6 612.0,374.6 616.0,374.1C620.0,373.6 626.1,372.2 630.1,371.6C634.1,371.1 636.8,370.8 640.1,370.8C643.5,370.8 646.9,371.9 650.2,371.6C653.6,371.3 656.9,370.0 660.2,369.0C663.5,368.0 667.3,366.1 670.2,365.8C673.1,365.5 675.3,367.2 677.8,367.3C680.3,367.4 683.2,367.5 685.3,366.5C687.4,365.5 688.6,363.3 690.3,361.5C692.0,359.7 693.6,356.5 695.3,355.7C697.0,354.9 698.6,356.5 700.3,356.5C702.0,356.5 703.7,356.5 705.4,355.7C707.1,354.9 708.7,352.8 710.4,351.5C712.1,350.2 713.9,349.4 715.4,347.7C716.9,346.0 718.0,344.3 719.2,341.4C720.5,338.5 721.6,333.5 722.9,330.2C724.1,326.9 725.2,323.9 726.7,321.4C728.2,318.9 730.2,317.2 731.7,315.1C733.2,313.0 734.0,311.5 735.5,308.8C737.0,306.1 739.0,301.9 740.5,298.8C742.0,295.7 742.5,294.3 744.2,290.0C745.9,285.7 748.6,276.9 750.5,272.8C752.4,268.7 754.0,268.6 755.5,265.3C757.0,262.0 758.0,257.8 759.3,252.8C760.6,247.8 761.6,240.6 763.1,235.2C764.6,229.8 766.4,224.8 768.1,220.2C769.8,215.6 771.6,212.2 773.1,207.6C774.6,203.0 776.0,196.1 776.9,192.5C777.8,188.9 777.9,188.9 778.5,186.0C779.1,183.1 779.9,177.4 780.7,175.0C781.6,172.6 782.4,171.4 783.6,171.4C784.8,171.4 786.5,175.2 787.9,175.0C789.3,174.8 790.8,171.2 792.1,170.0C793.4,168.8 794.5,167.7 795.7,167.9C796.9,168.1 798.0,170.2 799.3,171.4C800.6,172.6 802.2,175.2 803.6,175.0C805.0,174.8 806.5,172.5 807.9,170.0C809.3,167.5 810.7,164.1 812.1,160.0C813.5,155.9 815.2,150.0 816.4,145.7C817.6,141.4 818.2,137.9 819.3,134.3C820.4,130.7 821.8,126.5 822.9,124.3C824.0,122.1 824.6,119.3 825.7,121.0C826.8,122.7 828.2,127.8 829.3,134.3C830.4,140.8 831.3,152.4 832.1,160.0C832.9,167.6 833.5,175.6 834.0,180.0C834.5,184.4 834.8,187.0 835.3,186.7C835.8,186.4 836.3,182.8 836.8,178.0C837.3,173.2 837.9,164.1 838.5,158.0C839.1,151.9 839.9,145.3 840.7,141.4C841.6,137.5 842.7,135.2 843.6,134.3C844.5,133.4 845.3,138.4 846.0,136.0C846.7,133.6 847.2,125.9 848.0,120.0C848.8,114.1 849.8,101.2 850.7,100.7C851.6,100.2 852.9,111.5 853.6,117.0C854.3,122.5 854.4,128.5 855.0,134.0C855.6,139.5 856.3,145.2 857.0,150.0C857.7,154.8 858.5,162.6 859.3,162.9C860.1,163.2 860.9,155.5 862.0,152.0C863.1,148.5 864.7,143.0 866.0,142.0C867.3,141.0 868.8,144.7 870.0,146.0C871.2,147.3 872.9,149.3 873.5,150.0"/>
<path class="ser" stroke="#f0055e" d="M94.5,334.0C95.0,335.2 96.5,338.5 97.5,341.0C98.5,343.5 99.4,345.7 100.6,348.9C101.8,352.1 103.7,357.1 104.9,360.0C106.1,362.9 107.0,364.7 108.0,366.5C109.0,368.3 110.2,371.8 111.0,371.0C111.8,370.2 112.3,366.8 113.0,362.0C113.7,357.2 114.3,347.3 115.0,342.0C115.7,336.7 116.3,331.8 117.0,330.3C117.7,328.8 118.4,331.3 119.0,333.0C119.6,334.7 119.6,336.9 120.6,340.3C121.6,343.7 124.0,349.5 124.9,353.1C125.9,356.7 125.5,358.6 126.3,361.7C127.1,364.8 128.7,371.7 129.9,371.7C131.1,371.7 132.3,366.0 133.4,361.7C134.5,357.4 135.6,349.0 136.3,346.0C137.0,343.0 137.1,342.8 137.6,343.5C138.1,344.2 138.1,348.6 139.1,350.3C140.1,352.0 141.6,352.6 143.4,353.9C145.2,355.2 148.1,356.5 150.0,358.0C151.9,359.5 153.1,361.2 154.9,363.1C156.7,365.0 159.1,368.9 160.6,369.6C162.1,370.3 163.1,369.4 164.1,367.4C165.1,365.4 165.6,360.5 166.3,357.4C167.0,354.3 167.7,350.5 168.4,348.9C169.1,347.3 169.5,347.5 170.3,347.8C171.1,348.1 171.9,349.4 173.0,350.5C174.1,351.6 174.5,353.1 176.6,354.1C178.7,355.1 182.3,356.0 185.4,356.6C188.5,357.2 192.1,357.5 195.4,357.8C198.7,358.1 202.5,358.5 205.4,358.3C208.3,358.1 211.0,357.5 213.0,356.6C215.0,355.8 214.9,354.2 217.5,353.2C220.1,352.1 224.4,350.9 228.8,350.3C233.2,349.7 238.2,349.7 243.8,349.4C249.4,349.1 257.0,348.8 262.6,348.5C268.2,348.2 273.9,348.1 277.6,347.5C281.4,346.9 282.6,345.5 285.1,344.7C287.6,343.9 290.1,342.7 292.6,342.8C295.1,342.9 297.6,345.2 300.1,345.3C302.6,345.4 305.1,344.1 307.6,343.4C310.1,342.7 312.6,341.6 315.1,341.0C317.6,340.4 320.4,340.1 322.6,339.6C324.8,339.1 326.3,339.0 328.2,338.1C330.1,337.2 332.3,335.0 333.9,334.4C335.5,333.8 336.4,334.1 337.6,334.4C338.9,334.7 340.1,336.6 341.4,336.3C342.6,336.0 343.9,333.9 345.1,332.5C346.4,331.1 347.6,327.5 348.9,327.8C350.1,328.1 351.2,331.8 352.6,334.4C354.0,337.0 355.9,342.8 357.3,343.4C358.7,344.0 359.9,339.9 361.1,338.1C362.4,336.3 363.4,332.8 364.8,332.5C366.2,332.2 368.1,335.4 369.5,336.3C370.9,337.2 371.7,338.1 373.3,337.8C374.9,337.5 377.3,333.7 378.9,334.7C380.4,335.7 381.2,341.0 382.6,344.0C384.1,347.0 385.7,350.8 387.6,352.7C389.5,354.6 391.8,355.5 393.9,355.7C396.0,355.9 397.9,354.7 400.2,354.0C402.5,353.3 405.2,352.3 407.7,351.5C410.2,350.7 412.9,349.6 415.2,349.0C417.5,348.4 419.6,348.0 421.5,348.2C423.4,348.4 424.8,348.6 426.5,350.2C428.2,351.8 429.9,355.7 431.6,357.8C433.3,359.9 434.3,362.0 436.6,362.8C438.9,363.6 442.3,362.4 445.4,362.8C448.5,363.2 452.1,364.9 455.4,365.3C458.7,365.7 462.0,365.5 465.4,365.3C468.8,365.1 472.1,364.4 475.5,364.0C478.9,363.6 482.2,363.1 485.5,362.8C488.8,362.5 492.1,362.3 495.5,362.3C498.9,362.3 502.7,362.3 505.6,362.8C508.5,363.3 510.6,365.1 513.1,365.3C515.6,365.5 518.5,364.0 520.6,364.0C522.7,364.0 523.6,364.7 525.7,365.3C527.8,365.9 530.7,367.6 533.2,367.8C535.7,368.0 538.2,367.1 540.7,366.5C543.2,365.9 546.2,364.6 548.3,364.0C550.4,363.4 551.2,362.7 553.3,362.8C555.4,362.9 557.9,364.4 560.8,364.8C563.7,365.2 567.4,365.0 570.8,365.3C574.1,365.6 577.5,366.3 580.9,366.5C584.2,366.7 588.0,366.8 590.9,366.5C593.8,366.2 595.5,364.9 598.4,364.8C601.3,364.7 605.6,365.5 608.5,365.8C611.4,366.1 614.1,366.6 616.0,366.5C617.9,366.4 617.6,365.6 620.0,365.3C622.4,365.0 626.8,365.0 630.1,364.8C633.5,364.6 636.8,364.3 640.1,364.0C643.5,363.7 646.9,363.5 650.2,362.8C653.6,362.1 656.9,360.9 660.2,359.8C663.5,358.8 666.9,357.7 670.2,356.5C673.6,355.3 676.9,353.9 680.3,352.7C683.6,351.4 687.0,350.4 690.3,349.0C693.6,347.6 696.9,345.7 700.3,344.0C703.6,342.3 707.5,340.4 710.4,338.9C713.3,337.4 715.4,336.2 717.9,335.2C720.4,334.2 722.9,333.3 725.4,332.7C727.9,332.1 731.1,332.7 733.0,331.4C734.9,330.1 735.7,327.4 736.7,325.1C737.7,322.8 738.4,319.4 739.2,317.6C740.0,315.9 740.7,314.6 741.7,314.6C742.8,314.6 744.2,316.5 745.5,317.6C746.8,318.7 748.0,320.6 749.3,321.4C750.5,322.1 751.9,322.7 753.0,322.1C754.1,321.5 755.1,320.9 756.0,317.6C756.9,314.3 757.4,307.1 758.1,302.5C758.8,297.9 759.5,295.8 760.1,290.0C760.7,284.2 760.9,275.9 761.8,267.8C762.7,259.7 764.1,244.4 765.6,241.5C767.1,238.6 768.9,245.5 770.6,250.3C772.3,255.1 773.9,264.7 775.6,270.3C777.3,275.9 779.1,285.4 780.6,284.1C782.1,282.9 783.0,271.6 784.4,262.8C785.8,254.0 787.5,234.3 788.7,231.4C790.0,228.5 790.7,240.4 791.9,245.2C793.1,250.0 794.4,262.8 795.7,260.3C797.0,257.8 798.5,240.2 799.5,230.2C800.5,220.2 801.2,208.1 802.0,200.1C802.8,192.1 803.6,182.0 804.4,182.0C805.2,182.0 806.1,192.1 807.0,200.1C807.9,208.1 808.7,222.2 809.5,230.2C810.3,238.1 811.2,247.8 812.0,247.8C812.8,247.8 813.7,239.4 814.5,230.2C815.3,221.0 816.3,203.7 817.0,192.5C817.7,181.3 818.0,172.6 818.6,162.9C819.2,153.2 820.0,141.9 820.7,134.3C821.4,126.7 821.8,125.0 822.9,117.1C824.0,109.2 826.1,88.3 827.4,87.1C828.7,85.9 829.8,99.8 830.7,110.0C831.6,120.2 832.2,139.3 832.9,148.6C833.6,157.9 834.3,162.4 835.0,165.7C835.7,169.0 836.3,170.3 837.1,168.6C837.9,166.9 838.9,161.4 840.0,155.7C841.1,150.0 842.6,139.1 843.6,134.3C844.6,129.5 845.2,127.2 846.0,127.0C846.8,126.8 847.7,131.2 848.5,133.0C849.3,134.8 850.1,138.5 851.0,138.0C851.9,137.5 852.8,134.0 853.6,130.0C854.4,126.0 855.0,118.5 856.0,114.0C857.0,109.5 858.1,102.4 859.3,102.9C860.4,103.4 861.9,111.9 862.9,117.1C863.9,122.3 864.2,128.8 865.0,134.0C865.8,139.2 866.9,142.6 867.9,148.6C868.9,154.6 869.8,161.4 870.7,170.0C871.6,178.6 873.0,195.0 873.5,200.0"/>
<path class="ser" stroke="#b40545" d="M94.5,333.0C95.5,335.2 98.9,341.4 100.6,346.0C102.3,350.6 103.5,355.8 104.9,360.3C106.3,364.8 107.7,370.2 109.1,373.1C110.5,376.0 111.8,378.4 113.1,377.7C114.4,377.0 115.9,373.0 117.0,368.9C118.1,364.8 119.1,357.2 119.9,353.1C120.7,349.0 120.9,346.4 121.6,344.0C122.3,341.6 122.8,338.2 124.0,338.5C125.2,338.8 127.3,343.7 129.1,346.0C130.9,348.3 133.0,350.6 134.9,352.4C136.8,354.2 138.7,355.9 140.6,356.7C142.5,357.5 144.4,357.5 146.3,357.4C148.2,357.3 150.6,355.5 152.0,356.0C153.4,356.5 153.8,358.4 154.9,360.3C156.0,362.2 157.2,365.6 158.4,367.4C159.6,369.2 160.7,371.0 162.0,371.0C163.3,371.0 164.6,368.5 166.3,367.4C168.0,366.3 170.5,364.9 172.0,364.6C173.5,364.3 172.2,365.1 175.3,365.4C178.4,365.7 186.2,366.4 190.4,366.6C194.6,366.8 197.5,367.1 200.4,366.6C203.3,366.1 205.8,364.4 207.9,363.5C210.0,362.6 211.3,361.7 213.0,361.5C214.7,361.3 216.0,362.1 218.0,362.5C220.0,362.9 221.3,363.6 225.0,364.0C228.7,364.4 234.2,364.6 240.0,364.8C245.8,365.0 251.7,364.9 260.0,365.0C268.3,365.1 280.0,365.2 290.0,365.2C300.0,365.2 310.0,365.0 320.0,364.8C330.0,364.6 340.0,364.3 350.0,364.2C360.0,364.1 371.7,364.1 380.0,364.0C388.3,363.9 391.6,363.6 400.0,363.4C408.4,363.2 422.0,362.9 430.3,362.6C438.6,362.3 443.4,361.9 450.0,361.5C456.6,361.1 463.3,360.3 470.0,360.5C476.7,360.7 484.2,362.4 490.0,362.5C495.8,362.6 499.9,361.9 505.0,361.2C510.1,360.5 515.5,359.3 520.6,358.5C525.7,357.7 531.5,357.1 535.7,356.5C539.9,355.9 542.8,355.5 545.7,354.7C548.6,353.9 551.0,352.4 553.3,351.5C555.6,350.6 557.4,349.0 559.5,349.0C561.6,349.0 563.5,351.4 565.8,351.5C568.1,351.6 570.6,350.2 573.3,349.7C576.0,349.1 579.4,347.9 582.1,348.2C584.8,348.5 586.9,351.2 589.6,351.5C592.3,351.8 595.2,350.8 598.4,350.2C601.5,349.6 605.6,348.3 608.5,348.2C611.4,348.1 613.2,349.7 616.0,349.4C618.8,349.1 622.3,347.2 625.1,346.5C627.9,345.8 629.7,345.6 632.6,345.2C635.5,344.8 639.2,344.8 642.6,344.0C646.0,343.2 649.8,341.5 652.7,340.2C655.6,338.9 658.3,337.3 660.2,336.4C662.1,335.5 662.3,334.7 664.0,334.7C665.7,334.7 667.9,336.1 670.2,336.4C672.5,336.7 675.3,336.6 677.8,336.4C680.3,336.2 683.0,335.0 685.3,335.2C687.6,335.4 689.5,338.1 691.6,337.7C693.7,337.3 695.9,334.4 697.8,332.7C699.7,331.0 700.9,327.7 702.8,327.6C704.7,327.5 707.0,331.6 709.1,332.2C711.2,332.8 713.5,331.7 715.4,331.4C717.3,331.1 718.3,330.0 720.4,330.2C722.5,330.4 725.4,332.5 727.9,332.7C730.4,332.9 733.4,332.2 735.5,331.4C737.6,330.5 738.6,329.1 740.5,327.6C742.4,326.1 745.1,323.9 746.8,322.6C748.5,321.4 749.0,320.1 750.5,320.1C752.0,320.1 753.8,322.6 755.5,322.6C757.2,322.6 759.1,320.7 760.6,320.1C762.1,319.5 762.8,318.6 764.3,318.9C765.8,319.2 767.6,322.1 769.3,322.1C771.0,322.1 772.9,320.1 774.4,318.9C775.9,317.7 776.9,316.0 778.1,315.1C779.4,314.2 780.6,313.3 781.9,313.3C783.2,313.3 784.6,315.0 785.7,315.1C786.8,315.2 787.8,315.9 788.7,313.8C789.6,311.7 790.5,306.4 791.2,302.5C792.0,298.6 792.2,295.3 793.2,290.4C794.2,285.4 795.6,277.4 796.9,272.8C798.1,268.2 799.2,266.1 800.7,262.8C802.2,259.5 804.0,255.9 805.7,252.8C807.4,249.7 809.1,247.1 810.8,244.0C812.5,240.9 814.3,236.1 815.8,234.0C817.2,231.9 818.2,230.8 819.5,231.4C820.8,232.0 822.2,235.6 823.3,237.7C824.4,239.8 825.2,245.2 826.3,244.0C827.3,242.8 828.4,235.8 829.6,230.2C830.8,224.5 832.0,214.1 833.3,210.1C834.5,206.1 835.8,205.5 837.1,206.3C838.4,207.1 839.9,212.8 840.9,215.1C841.9,217.4 842.4,221.9 843.4,220.2C844.4,218.5 845.9,210.5 847.1,205.1C848.4,199.7 849.8,193.3 850.9,187.5C852.0,181.7 852.7,177.7 853.6,170.0C854.5,162.3 855.5,148.2 856.4,141.4C857.3,134.6 858.1,129.3 859.3,129.3C860.5,129.3 862.4,137.0 863.6,141.4C864.8,145.8 865.5,151.4 866.4,155.7C867.3,160.0 868.1,163.5 869.3,167.1C870.5,170.7 872.8,175.3 873.5,177.0"/>
<path class="ser" stroke="#8000ff" d="M94.3,375.0C94.5,370.8 94.6,360.1 95.5,350.0C96.4,339.9 98.6,322.9 99.9,314.6C101.2,306.3 102.4,303.4 103.5,300.0C104.6,296.6 105.5,293.7 106.3,293.9C107.1,294.1 107.8,297.6 108.5,301.0C109.2,304.4 109.5,307.6 110.6,314.6C111.7,321.6 113.8,336.2 114.9,343.1C116.1,350.0 116.7,353.0 117.5,356.0C118.3,359.0 118.8,361.8 119.6,361.0C120.3,360.2 121.0,358.7 122.0,351.0C123.0,343.3 124.6,323.4 125.6,314.6C126.6,305.8 127.3,301.7 128.0,298.0C128.7,294.3 129.3,292.4 129.9,292.4C130.5,292.4 131.0,295.5 131.5,298.0C132.0,300.5 132.0,301.5 132.7,307.4C133.4,313.2 134.6,326.4 135.6,333.1C136.6,339.8 137.3,344.4 138.4,347.4C139.5,350.4 140.4,350.3 142.0,351.0C143.6,351.7 146.0,351.8 147.7,351.7C149.4,351.6 150.6,350.1 152.0,350.3C153.4,350.5 154.9,351.9 156.3,353.1C157.7,354.3 158.9,356.1 160.6,357.4C162.3,358.7 164.4,360.0 166.3,361.0C168.2,362.0 169.7,362.8 172.0,363.5C174.3,364.2 177.3,364.9 180.0,365.3C182.7,365.7 186.0,365.2 188.0,365.8C190.0,366.4 190.9,369.0 192.2,369.1C193.5,369.2 194.5,367.1 195.9,366.3C197.3,365.5 198.9,364.2 200.6,364.4C202.3,364.5 203.5,366.9 206.3,367.2C209.1,367.5 213.8,366.4 217.5,366.3C221.2,366.2 225.1,365.9 228.8,366.3C232.6,366.7 235.6,368.4 240.0,368.5C244.4,368.6 249.4,367.4 255.0,367.2C260.6,367.0 267.5,367.2 273.8,367.2C280.1,367.2 286.4,367.3 292.6,367.2C298.9,367.1 305.1,366.5 311.3,366.3C317.6,366.1 323.8,366.1 330.1,365.9C336.4,365.7 341.4,365.4 348.9,365.3C356.4,365.2 366.6,365.3 375.1,365.1C383.7,364.9 391.8,364.5 400.2,364.0C408.6,363.5 416.9,362.8 425.3,362.3C433.7,361.8 442.9,361.2 450.4,360.8C457.9,360.4 465.5,359.7 470.5,359.8C475.5,359.9 477.2,361.1 480.5,361.5C483.8,361.9 486.3,362.4 490.5,362.3C494.7,362.2 500.6,361.5 505.6,360.8C510.6,360.1 515.6,359.0 520.6,358.3C525.6,357.6 531.5,356.7 535.7,356.5C539.9,356.3 542.4,357.5 545.7,357.3C549.1,357.1 552.4,355.8 555.8,355.2C559.1,354.6 561.6,354.1 565.8,354.0C570.0,353.9 576.7,354.9 580.9,354.7C585.1,354.5 587.6,353.2 590.9,352.7C594.2,352.2 596.7,351.9 600.9,351.5C605.1,351.1 612.0,350.6 616.0,350.2C620.0,349.8 621.1,349.6 625.1,349.0C629.1,348.4 634.2,347.3 640.1,346.5C646.0,345.7 653.5,344.7 660.2,344.0C666.9,343.3 673.6,342.8 680.3,342.2C687.0,341.6 693.6,340.9 700.3,340.2C707.0,339.4 714.5,338.3 720.4,337.7C726.3,337.1 730.5,337.0 735.5,336.4C740.5,335.8 746.3,334.7 750.5,333.9C754.7,333.1 757.2,332.4 760.6,331.4C764.0,330.3 767.3,328.7 770.6,327.6C773.9,326.5 777.7,325.1 780.6,324.6C783.5,324.1 785.7,325.4 788.2,324.6C790.7,323.9 793.4,321.5 795.7,320.1C798.0,318.7 800.5,318.0 802.0,316.3C803.5,314.6 803.7,313.2 804.5,310.1C805.3,307.0 806.4,300.8 807.0,297.5C807.6,294.2 807.4,294.5 808.2,290.4C809.0,286.3 810.5,277.8 812.0,272.8C813.5,267.8 815.5,264.9 817.0,260.3C818.5,255.7 819.5,251.0 820.8,245.2C822.1,239.3 823.4,230.8 824.6,225.2C825.9,219.6 826.8,214.8 828.3,211.4C829.8,208.1 831.6,206.4 833.3,205.1C835.0,203.8 836.7,204.2 838.4,203.8C840.1,203.4 841.9,204.1 843.4,202.6C844.9,201.1 845.9,198.5 847.1,195.1C848.4,191.7 849.6,185.5 850.9,182.0C852.2,178.5 853.4,176.5 855.0,174.3C856.6,172.1 859.0,170.5 860.7,168.6C862.4,166.7 863.6,166.2 865.0,162.9C866.4,159.6 868.1,153.4 869.3,148.6C870.5,143.8 871.4,137.9 872.1,134.3C872.8,130.7 873.3,128.2 873.5,127.0"/>
</g>
<path d="M378.8,13.25V429.0" stroke="#000" stroke-width="1.9" stroke-dasharray="5.5 1.7" fill="none"/>
<path d="M560.0,13.25V429.0" stroke="#000" stroke-width="1.9" stroke-dasharray="5.5 1.7" fill="none"/>
<path d="M750.0,13.25V429.0" stroke="#000" stroke-width="1.9" stroke-dasharray="5.5 1.7" fill="none"/>
<text class="lb" x="375.2" y="37.5" text-anchor="end" style="font-size:23.45px;letter-spacing:0.1px">Rear</text>
<text class="lb" x="375.2" y="64.0" text-anchor="end" style="font-size:23.45px;letter-spacing:0.1px">blade</text>
<text class="lb" x="555.6" y="37.5" text-anchor="end" style="font-size:23.45px;letter-spacing:0.1px">Propeller</text>
<text class="lb" x="555.6" y="64.0" text-anchor="end" style="font-size:23.45px;letter-spacing:0.1px">axis</text>
<text class="lb" x="746.4" y="37.5" text-anchor="end" style="font-size:23.45px;letter-spacing:0.1px">Front</text>
<text class="lb" x="746.4" y="64.0" text-anchor="end" style="font-size:23.45px;letter-spacing:0.1px">blade</text>
<rect x="94.0" y="13.0" width="779.2" height="417.0" fill="none" stroke="#000" stroke-width="2.1"/>
<text class="tk" x="94.0" y="468.2" text-anchor="middle">550</text>
<text class="tk" x="164.8" y="468.2" text-anchor="middle">600</text>
<text class="tk" x="235.7" y="468.2" text-anchor="middle">650</text>
<text class="tk" x="306.5" y="468.2" text-anchor="middle">700</text>
<text class="tk" x="377.3" y="468.2" text-anchor="middle">750</text>
<text class="tk" x="448.2" y="468.2" text-anchor="middle">800</text>
<text class="tk" x="519.0" y="468.2" text-anchor="middle">850</text>
<text class="tk" x="589.9" y="468.2" text-anchor="middle">900</text>
<text class="tk" x="660.7" y="468.2" text-anchor="middle">950</text>
<text class="tk" x="731.5" y="468.2" text-anchor="middle">1000</text>
<text class="tk" x="802.4" y="468.2" text-anchor="middle">1050</text>
<text class="tk" x="873.2" y="468.2" text-anchor="middle">1100</text>
<text class="tk" x="71.9" y="20.4" text-anchor="end">10</text>
<text class="tk" x="71.9" y="89.9" text-anchor="end">5</text>
<text class="tk" x="71.9" y="159.4" text-anchor="end">0</text>
<text class="tk" x="71.9" y="228.9" text-anchor="end">-5</text>
<text class="tk" x="71.9" y="298.4" text-anchor="end">-10</text>
<text class="tk" x="71.9" y="367.9" text-anchor="end">-15</text>
<text class="tk" x="71.9" y="437.4" text-anchor="end">-20</text>
<text class="lb" x="393.2" y="508.3" style="font-size:23.55px"><tspan font-style="italic">x</tspan>-coordinate (mm)</text>
<text class="lb" transform="translate(23.6,220.5) rotate(-90)" text-anchor="middle" style="letter-spacing:0.43px">Velocity (m/s)</text>
<path d="M896.2,51.3H934.2" stroke="#0b7fa3" stroke-width="3.4" stroke-linecap="round" fill="none"/>
<text class="lb" x="939.6" y="58.75" style="letter-spacing:0.08px"><tspan font-style="italic">y</tspan> = 20 mm</text>
<path d="M896.2,91.6H934.2" stroke="#05c0fb" stroke-width="3.4" stroke-linecap="round" fill="none"/>
<text class="lb" x="939.6" y="99.05" style="letter-spacing:0.08px"><tspan font-style="italic">y</tspan> = 60 mm</text>
<path d="M896.2,131.9H934.2" stroke="#00f0ff" stroke-width="3.4" stroke-linecap="round" fill="none"/>
<text class="lb" x="939.6" y="139.35" style="letter-spacing:0.08px"><tspan font-style="italic">y</tspan> = 100 mm</text>
<path d="M896.2,172.2H934.2" stroke="#00d67a" stroke-width="3.4" stroke-linecap="round" fill="none"/>
<text class="lb" x="939.6" y="179.65" style="letter-spacing:0.08px"><tspan font-style="italic">y</tspan> = 140 mm</text>
<path d="M896.2,212.5H934.2" stroke="#f7ec08" stroke-width="3.4" stroke-linecap="round" fill="none"/>
<text class="lb" x="939.6" y="219.95" style="letter-spacing:0.08px"><tspan font-style="italic">y</tspan> = 180 mm</text>
<path d="M896.2,252.8H934.2" stroke="#ff9000" stroke-width="3.4" stroke-linecap="round" fill="none"/>
<text class="lb" x="939.6" y="260.25" style="letter-spacing:0.08px"><tspan font-style="italic">y</tspan> = 220 mm</text>
<path d="M896.2,293.1H934.2" stroke="#ff3a44" stroke-width="3.4" stroke-linecap="round" fill="none"/>
<text class="lb" x="939.6" y="300.55" style="letter-spacing:0.08px"><tspan font-style="italic">y</tspan> = 260 mm</text>
<path d="M896.2,333.4H934.2" stroke="#f0055e" stroke-width="3.4" stroke-linecap="round" fill="none"/>
<text class="lb" x="939.6" y="340.85" style="letter-spacing:0.08px"><tspan font-style="italic">y</tspan> = 300 mm</text>
<path d="M896.2,373.7H934.2" stroke="#b40545" stroke-width="3.4" stroke-linecap="round" fill="none"/>
<text class="lb" x="939.6" y="381.15" style="letter-spacing:0.08px"><tspan font-style="italic">y</tspan> = 380 mm</text>
<path d="M896.2,414.0H934.2" stroke="#8000ff" stroke-width="3.4" stroke-linecap="round" fill="none"/>
<text class="lb" x="939.6" y="421.45" style="letter-spacing:0.08px"><tspan font-style="italic">y</tspan> = 460 mm</text>
</svg></body></html>
